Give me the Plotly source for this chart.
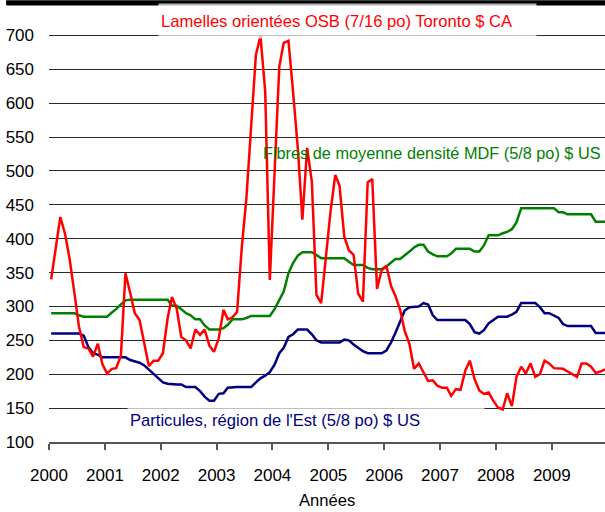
import pandas as pd
import plotly.graph_objects as go

# Monthly data, Jan 2000 - Dec 2009
months = pd.date_range("2000-01-01", periods=120, freq="MS") + pd.Timedelta(days=14)

osb_toronto_cad = [
    340, 386, 432, 407, 370, 320, 270, 240, 238, 226, 245, 215,
    201, 208, 209, 227, 349, 320, 290, 280, 246, 212, 220, 220,
    231, 283, 314, 297, 255, 250, 238, 266, 258, 266, 242, 233,
    253, 295, 281, 284, 292, 388, 460, 560, 671, 699, 617, 339,
    500, 654, 689, 692, 617, 534, 428, 534, 484, 317, 305, 376,
    440, 494, 478, 403, 383, 376, 319, 307, 483, 488, 326, 353,
    360, 330, 316, 295, 264, 245, 208, 216, 203, 190, 191, 183,
    180, 180, 168, 178, 177, 205, 220, 193, 176, 171, 173, 161,
    151, 148, 172, 153, 196, 211, 201, 216, 196, 200, 220, 216,
    209, 208, 208, 204, 200, 196, 216, 216, 211, 202, 204, 207,
]

mdf_usd = [
    290, 290, 290, 290, 290, 290, 287, 285, 285, 285, 285, 285,
    285, 291, 296, 303, 309, 310, 310, 310, 310, 310, 310, 310,
    310, 310, 301, 301, 296, 290, 287, 281, 281, 272, 266, 266,
    266, 268, 273, 281, 281, 281, 283, 286, 286, 286, 286, 286,
    296, 310, 322, 349, 364, 375, 380, 380, 380, 376, 371, 371,
    371, 371, 371, 371, 366, 361, 361, 361, 357, 355, 355, 355,
    359, 365, 370, 370, 375, 381, 387, 391, 391, 381, 377, 374,
    374, 374, 378, 385, 385, 385, 385, 381, 381, 390, 405, 405,
    405, 408, 410, 414, 424, 445, 445, 445, 445, 445, 445, 445,
    445, 439, 439, 436, 436, 436, 436, 436, 436, 425, 425, 425,
]

particules_usd = [
    260, 260, 260, 260, 260, 260, 260, 257, 240, 231, 229, 225,
    225, 225, 225, 225, 225, 221, 219, 217, 213, 207, 200, 194,
    188, 186, 185, 185, 185, 181, 181, 181, 175, 167, 161, 161,
    171, 172, 180, 181, 181, 181, 181, 181, 188, 194, 198, 203,
    214, 231, 239, 255, 259, 266, 266, 266, 259, 250, 247, 247,
    247, 247, 247, 251, 250, 244, 239, 234, 231, 231, 231, 231,
    235, 247, 261, 278, 294, 299, 300, 300, 305, 303, 287, 280,
    280, 280, 280, 280, 280, 280, 274, 262, 260, 265, 275, 280,
    285, 285, 285, 288, 292, 305, 305, 305, 305, 299, 290, 290,
    287, 283, 274, 271, 271, 271, 271, 271, 271, 261, 261, 261,
]

label_osb = "Lamelles orientées OSB (7/16 po) Toronto $ CA"
label_mdf = "Fibres de moyenne densité MDF (5/8 po) $ US"
label_part = "Particules, région de l'Est (5/8 po) $ US"
x_title = "Années"

W, H = 605, 512
ML, MR, MT, MB = 49, 0, 32, 70
PW, PH = W - ML - MR, H - MT - MB


def px_x(px):
    return (px - ML) / PW


def px_y(py):
    return (H - MB - py) / PH


FONT = "Liberation Sans, Arial, sans-serif"
LBL = 16.6

fig = go.Figure()
fig.add_trace(go.Scatter(x=months, y=particules_usd, mode="lines",
                         line=dict(color="#000080", width=2.5), name=label_part))
fig.add_trace(go.Scatter(x=months, y=mdf_usd, mode="lines",
                         line=dict(color="#008000", width=2.5), name=label_mdf))
fig.add_trace(go.Scatter(x=months, y=osb_toronto_cad, mode="lines",
                         line=dict(color="#FF0000", width=2.5), name=label_osb))

fig.update_layout(
    width=W, height=H,
    margin=dict(l=ML, r=MR, t=MT, b=MB, pad=0, autoexpand=False),
    paper_bgcolor="white", plot_bgcolor="white",
    showlegend=False,
    font=dict(family=FONT, size=17, color="black"),
    xaxis=dict(
        type="date", range=["2000-01-01", "2009-12-15"],
        tick0="2000-01-01", dtick="M12", tickformat="%Y",
        ticks="outside", ticklen=6, tickwidth=1.5, tickcolor="#555",
        showline=True, linecolor="#555", linewidth=1.5,
        showgrid=False, zeroline=False, ticklabelstandoff=11,
        automargin=False,
    ),
    yaxis=dict(
        range=[100, 705], tick0=100, dtick=50,
        showgrid=True, gridcolor="#2a2a2a", gridwidth=1,
        showline=False, zeroline=False, ticks="",
        ticklabelstandoff=14, automargin=False,
    ),
    shapes=[dict(type="rect", xref="paper", yref="paper", layer="above",
                 x0=px_x(6), x1=px_x(W), y0=px_y(4.5), y1=px_y(0.5),
                 fillcolor="black", line=dict(width=0))],
    annotations=[
        dict(text=" ", xref="paper", yref="paper",
             x=px_x(6), y=px_y(0), xanchor="left", yanchor="top",
             showarrow=False, width=W - 6, height=4, borderpad=0,
             bgcolor="black", font=dict(size=2)),
        dict(text=label_osb, xref="paper", yref="paper",
             x=px_x(158), y=px_y(21), xanchor="left", yanchor="middle",
             showarrow=False, align="left", width=373, height=30,
             borderpad=2, bgcolor="rgba(255,255,255,0.7)",
             font=dict(color="#FF0000", size=LBL, family=FONT)),
        dict(text=label_mdf, xref="paper", yref="paper",
             x=px_x(261), y=px_y(153), xanchor="left", yanchor="middle",
             showarrow=False, align="left",
             font=dict(color="#008000", size=16.3, family=FONT)),
        dict(text=label_part, xref="paper", yref="paper",
             x=px_x(127), y=px_y(420), xanchor="left", yanchor="middle",
             showarrow=False, align="left", width=352, height=30,
             borderpad=2, bgcolor="rgba(255,255,255,0.7)",
             font=dict(color="#000080", size=LBL, family=FONT)),
        dict(text=x_title, xref="paper", yref="paper",
             x=0.5, y=px_y(501), xanchor="center", yanchor="middle",
             showarrow=False,
             font=dict(color="black", size=LBL, family=FONT)),
    ],
)

fig.write_html("out.html", config={"displayModeBar": False},
               post_script="document.body.style.margin='0';")
